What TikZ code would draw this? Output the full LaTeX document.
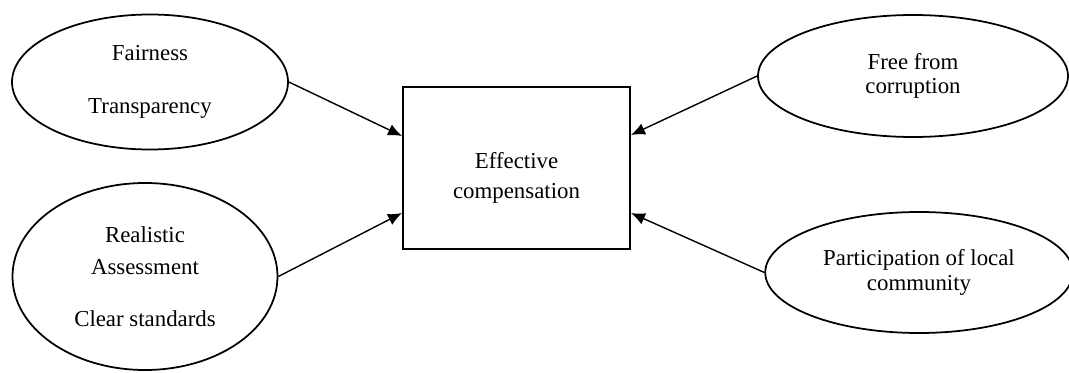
\documentclass[tikz,border=0pt]{standalone}
\usepackage{fontspec}
\setmainfont{Liberation Serif}
\usepackage{tikz}
\usetikzlibrary{arrows.meta,positioning,shapes.geometric}

\begin{document}
\begin{tikzpicture}[every node/.style={font=\fontsize{13}{14}\selectfont, align=center}]
\tikzstyle{factor}=[draw, ellipse, line width=1pt, inner sep=0pt]
\tikzstyle{goal}=[draw, rectangle, line width=1.1pt, minimum width=4.54cm, minimum height=3.24cm]
\tikzstyle{link}=[-{Latex[length=2.8mm,width=2.4mm]}, line width=0.8pt]
\useasboundingbox (0,0) rectangle (21.38,7.44);
\node[goal] (effect) at (10.33,4.08) {\rule{0pt}{0.72cm}Effective\\[3pt]compensation};
\node[factor, minimum width=5.52cm, minimum height=2.7cm] (fair) at (3.0,5.8) {Fairness\\[16pt]Transparency};
\node[factor, minimum width=5.3cm, minimum height=3.74cm] (real) at (2.9,1.91) {Realistic\\[4pt]Assessment\\[15.6pt]Clear standards};
\node[factor, minimum width=6.2cm, minimum height=2.44cm] (free) at (18.26,5.92) {Free from\\corruption};
\node[factor, minimum width=6.15cm, minimum height=2.42cm] (part) at (18.38,1.99) {Participation of local\\community};
\draw[link] (fair.east)--([yshift=0.64cm]effect.west);
\draw[link] (real.east)--([yshift=-0.9cm]effect.west);
\draw[link] (free.west)--([yshift=0.66cm]effect.east);
\draw[link] (part.west)--([yshift=-0.9cm]effect.east);
\end{tikzpicture}
\end{document}
